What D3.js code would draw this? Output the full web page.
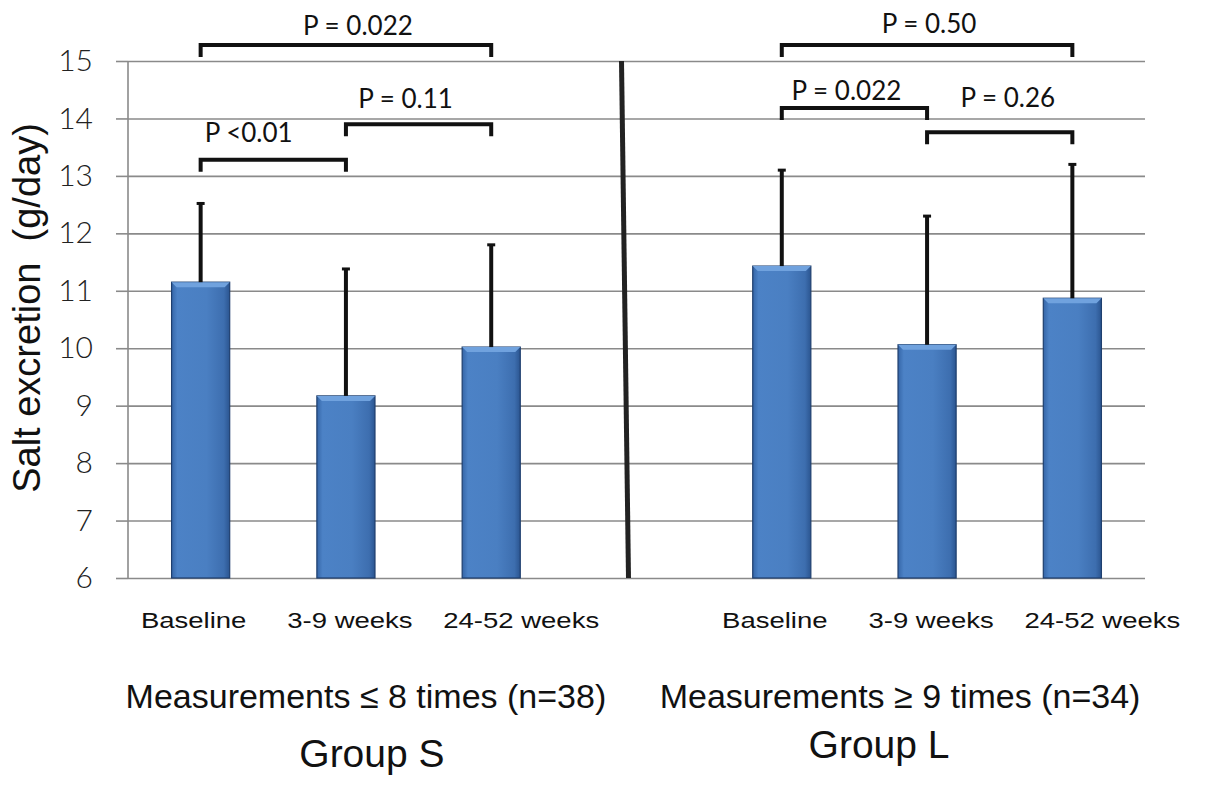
<!DOCTYPE html>
<html>
<head>
<meta charset="utf-8">
<script src="https://cdn.jsdelivr.net/npm/d3@7"></script>
<style>
  body { margin: 0; background: #fff; }
  svg { display: block; }
  text { white-space: pre; }
</style>
</head>
<body>
<svg id="chart" width="1205" height="789"></svg>
<script>
// categories and values
var categories = ['Baseline', '3-9 weeks', '24-52 weeks'];
var meansS = [11.15, 9.17, 10.02];
var upperS = [12.52, 11.38, 11.80];
var meansL = [11.43, 10.06, 10.87];
var upperL = [13.10, 12.30, 13.20];
var yTicks = [6, 7, 8, 9, 10, 11, 12, 13, 14, 15];
// brackets: [group, from index, to index, level (g/day), label]
var brackets = [
    ['S', 0, 2, 15.28, 'P = 0.022'],
    ['S', 0, 1, 13.28, 'P <0.01'],
    ['S', 1, 2, 13.90, 'P = 0.11'],
    ['L', 0, 2, 15.28, 'P = 0.50'],
    ['L', 0, 1, 14.18, 'P = 0.022'],
    ['L', 1, 2, 13.76, 'P = 0.26']
];
var groupLabels = {
    S: ['Measurements \u2264 8 times (n=38)', 'Group S'],
    L: ['Measurements \u2265 9 times (n=34)', 'Group L']
};

// layout tweaks (pixels), as the labels sit in the original
var catLabelDx = [-7, 4, 30];
var bracketLabelOff = [[12, 10], [0, 18], [-13, 16], [2, 12], [-8, 8], [8, 25]];

var svg = d3.select('#chart');
var mLeft = 128, mRight = 1145, mTop = 61, mBottom = 578;

var slots = ['S0', 'S1', 'S2', 'gap', 'L0', 'L1', 'L2'];
var x = d3.scaleBand().domain(slots).range([mLeft, mRight])
    .paddingInner(0.6).paddingOuter(0.3);
var y = d3.scaleLinear().domain([6, 15]).range([mBottom, mTop]);
var cx = function(k) { return x(k) + x.bandwidth() / 2; };

var bars = [];
categories.forEach(function(c, i) {
    bars.push({ key: 'S' + i, idx: i, cat: c, mean: meansS[i], up: upperS[i] });
});
categories.forEach(function(c, i) {
    bars.push({ key: 'L' + i, idx: i, cat: c, mean: meansL[i], up: upperL[i] });
});

// gradient for the bevelled bars
var defs = svg.append('defs');
var g1 = defs.append('linearGradient').attr('id', 'barGrad')
    .attr('x1', 0).attr('x2', 1).attr('y1', 0).attr('y2', 0);
g1.append('stop').attr('offset', '0%').attr('stop-color', '#3566a8');
g1.append('stop').attr('offset', '10%').attr('stop-color', '#4c82c6');
g1.append('stop').attr('offset', '60%').attr('stop-color', '#4a7fc2');
g1.append('stop').attr('offset', '90%').attr('stop-color', '#3d6eaf');
g1.append('stop').attr('offset', '100%').attr('stop-color', '#2b5590');

// gridlines
svg.append('g')
    .attr('transform', 'translate(' + mLeft + ',0)')
    .call(d3.axisLeft(y).tickValues(yTicks).tickSize(-(mRight - mLeft)).tickFormat(''))
    .call(function(g) {
        g.select('.domain').remove();
        g.selectAll('line').attr('stroke', '#8a8a8a').attr('stroke-width', 1.6);
    });

// y axis with ticks and labels
svg.append('g')
    .attr('transform', 'translate(' + mLeft + ',0)')
    .call(d3.axisLeft(y).tickValues(yTicks).tickSize(12).tickPadding(23))
    .call(function(g) {
        g.select('.domain').attr('stroke', '#8a8a8a').attr('stroke-width', 1.6)
            .attr('d', 'M0,' + mTop + 'V' + mBottom);
        g.selectAll('line').attr('stroke', '#8a8a8a').attr('stroke-width', 1.6);
        g.selectAll('text').attr('fill', '#222')
            .style('font-family', 'Lato, Open Sans, sans-serif')
            .style('font-weight', '300')
            .style('font-size', '30px');
    });

svg.append('text')
    .attr('transform', 'translate(40,308) rotate(-90)')
    .attr('text-anchor', 'middle')
    .style('font-family', 'Liberation Sans, Arial, sans-serif')
    .style('font-size', '38px')
    .attr('fill', '#111')
    .text('Salt excretion  (g/day)');

// bars
var barG = svg.append('g');
barG.selectAll('.bar')
    .data(bars)
    .enter().append('rect')
    .attr('class', 'bar')
    .attr('x', function(d) { return x(d.key); })
    .attr('y', function(d) { return y(d.mean); })
    .attr('width', x.bandwidth())
    .attr('height', function(d) { return y(6) - y(d.mean); })
    .attr('fill', 'url(#barGrad)')
    .attr('stroke', '#1f3f6e')
    .attr('stroke-width', 1.2);
// top bevel highlight
barG.selectAll('.bevel')
    .data(bars)
    .enter().append('path')
    .attr('class', 'bevel')
    .attr('d', function(d) {
        var x0 = x(d.key), x1 = x0 + x.bandwidth(), y0 = y(d.mean);
        return 'M' + x0 + ',' + y0 + 'H' + x1 + 'L' + (x1 - 5) + ',' + (y0 + 5) +
            'H' + (x0 + 5) + 'Z';
    })
    .attr('fill', '#70a2de');

// error bars (upper only)
var errG = svg.append('g').attr('stroke', '#111').attr('stroke-width', 4);
errG.selectAll('.err')
    .data(bars)
    .enter().append('line')
    .attr('x1', function(d) { return cx(d.key); })
    .attr('x2', function(d) { return cx(d.key); })
    .attr('y1', function(d) { return y(d.mean); })
    .attr('y2', function(d) { return y(d.up); });
errG.selectAll('.cap')
    .data(bars)
    .enter().append('line')
    .attr('stroke-width', 3)
    .attr('x1', function(d) { return cx(d.key) - 4; })
    .attr('x2', function(d) { return cx(d.key) + 4; })
    .attr('y1', function(d) { return y(d.up); })
    .attr('y2', function(d) { return y(d.up); });

// divider between the groups
svg.append('line')
    .attr('x1', cx('gap') - 15).attr('y1', y(15))
    .attr('x2', cx('gap') - 8).attr('y2', y(6))
    .attr('stroke', '#222').attr('stroke-width', 5);

// significance brackets
var brG = svg.append('g');
brackets.forEach(function(b, i) {
    var xa = cx(b[0] + b[1]), xb = cx(b[0] + b[2]), yy = y(b[3]);
    var off = bracketLabelOff[i];
    brG.append('path')
        .attr('d', 'M' + xa + ',' + (yy + 12) + 'V' + yy + 'H' + xb + 'V' + (yy + 12))
        .attr('fill', 'none').attr('stroke', '#111').attr('stroke-width', 4);
    var isLt = b[4].indexOf('<') >= 0;
    brG.append('text')
        .attr('x', isLt ? xa + 4 : (xa + xb) / 2 + off[0])
        .attr('y', yy - off[1])
        .attr('text-anchor', isLt ? 'start' : 'middle')
        .style('font-family', 'Lato, Open Sans, sans-serif')
        .style('font-size', '26px')
        .attr('fill', '#111')
        .text(b[4]);
});

// category labels (the original lettering is stretched sideways)
svg.append('g').selectAll('.cat')
    .data(bars)
    .enter().append('text')
    .attr('transform', function(d) {
        return 'translate(' + (cx(d.key) + catLabelDx[d.idx]) + ',628) scale(1.25,1)';
    })
    .attr('text-anchor', 'middle')
    .style('font-family', 'Liberation Sans, Arial, sans-serif')
    .style('font-size', '22px')
    .attr('fill', '#111')
    .text(function(d) { return d.cat; });

// group captions
['S', 'L'].forEach(function(gk) {
    var mid = cx(gk + '1');
    svg.append('text')
        .attr('x', mid + (gk === 'S' ? 20 : -27)).attr('y', 708)
        .attr('text-anchor', 'middle')
        .style('font-family', 'Liberation Sans, Arial, sans-serif')
        .style('font-size', '34px')
        .attr('fill', '#111')
        .text(groupLabels[gk][0]);
    svg.append('text')
        .attr('x', mid + (gk === 'S' ? 26 : -48)).attr('y', gk === 'S' ? 767 : 758)
        .attr('text-anchor', 'middle')
        .style('font-family', 'Liberation Sans, Arial, sans-serif')
        .style('font-size', '39px')
        .attr('fill', '#111')
        .text(groupLabels[gk][1]);
});
</script>
</body>
</html>
